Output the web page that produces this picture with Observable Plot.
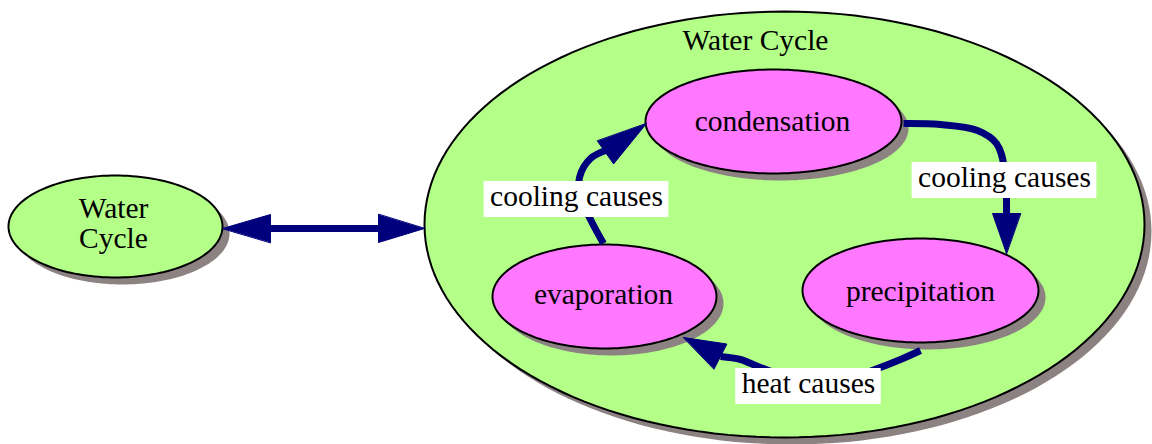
<!DOCTYPE html>
<html><head><meta charset="utf-8">
<script src="https://cdn.jsdelivr.net/npm/d3@7"></script>
<script src="https://cdn.jsdelivr.net/npm/@observablehq/plot@0.6"></script>
<style>body{margin:0;background:#fff}</style>
</head><body><div id="chart"></div>
<script>
// ---- nodes (diagram layout, in pixel units) ----
const nodeNames  = ["Water Cycle (node)", "Water Cycle (cluster)", "condensation", "precipitation", "evaporation"];
const nodeKinds  = ["cluster", "cluster", "concept", "concept", "concept"];
const nodeLevel  = [0, 0, 1, 1, 1];
const nodeCx     = [115, 784, 773, 920, 604];
const nodeCy     = [226, 224, 121, 290, 296];
const nodeRx     = [107, 360, 128, 118, 112];
const nodeRy     = [51, 213, 52, 52, 52];

// ---- text labels ----
const textLabels = ["Water", "Cycle", "Water Cycle", "condensation", "precipitation", "evaporation"];
const textX      = [113, 113, 755, 772, 920, 603];
const textY      = [208, 238, 40, 121, 291, 294];

// ---- edges ----
const edgeFrom   = ["Water Cycle", "condensation", "evaporation", "precipitation"];
const edgeTo     = ["Water Cycle", "precipitation", "condensation", "evaporation"];
const edgePaths  = [
  [[262,228],[386,228]],
  [[903,123],[940,124],[977,130],[996,143],[1004,168],[1006,216]],
  [[603,243],[591,221],[580,197],[579,177],[590,158],[608,149]],
  [[920,350],[900,359],[877,368],[840,380],[800,380],[760,367],[740,359],[720,356]]
];
const headTips   = [[222,228],[424,228],[1006,253],[646,123],[683,337]];
const headBases  = [[270,228],[378,228],[1006,213],[605,152],[720,356]];

// ---- edge labels ----
const edgeLabels = ["cooling causes", "cooling causes", "heat causes"];
const edgeLabelX = [576, 1004, 808];
const edgeLabelY = [199, 180, 386];

// ---- styles ----
const FONT = "Liberation Serif, Times New Roman, serif";
const FS = 29.5;
const GREEN = "#b3ff88", PINK = "#ff78ff", SHADOW = "#8c8282", NAVY = "#00007d";
const SH = 7;

// ellipse outlines
const ellipsePts = [];
nodeNames.forEach((n, i) => {
  const N = 160;
  for (let k = 0; k < N; k++) {
    const a = (k / N) * 2 * Math.PI;
    ellipsePts.push({node: n, kind: nodeKinds[i], level: nodeLevel[i],
      x: nodeCx[i] + nodeRx[i] * Math.cos(a), y: nodeCy[i] + nodeRy[i] * Math.sin(a)});
  }
});

const edgePts = [];
edgePaths.forEach((p, i) => p.forEach(([x, y]) => edgePts.push({edge: i, x, y})));

const headPts = [];
headTips.forEach((t, i) => {
  const b = headBases[i];
  const dx = t[0] - b[0], dy = t[1] - b[1], L = Math.hypot(dx, dy);
  const nx = -dy / L, ny = dx / L, hw = 14;
  headPts.push({head: i, x: t[0], y: t[1]});
  headPts.push({head: i, x: b[0] + nx * hw, y: b[1] + ny * hw});
  headPts.push({head: i, x: b[0] - nx * hw, y: b[1] - ny * hw});
});

const ctx = document.createElement("canvas").getContext("2d");
ctx.font = `${FS}px Liberation Serif`;
const boxes = edgeLabels.map((t, i) => {
  const w = ctx.measureText(t).width + 12;
  const h = 36;
  return {label: t, x1: edgeLabelX[i] - w / 2, x2: edgeLabelX[i] + w / 2, y1: edgeLabelY[i] - h / 2, y2: edgeLabelY[i] + h / 2};
});

const texts = textLabels.map((t, i) => ({t, x: textX[i], y: textY[i]}));
const etexts = edgeLabels.map((t, i) => ({t, x: edgeLabelX[i], y: edgeLabelY[i]}));

const fillOf = k => k === "cluster" ? GREEN : PINK;
const levelMarks = lvl => {
  const d = ellipsePts.filter(p => p.level === lvl);
  return [
    Plot.line(d, {x: "x", y: "y", z: "node", curve: "linear-closed", fill: SHADOW, stroke: "none", dx: SH, dy: SH}),
    ...["cluster", "concept"].map(k => Plot.line(d.filter(p => p.kind === k), {x: "x", y: "y", z: "node", curve: "linear-closed", fill: fillOf(k), stroke: "black", strokeWidth: 2}))
  ];
};

const chart = Plot.plot({
  width: 1152, height: 444, margin: 0,
  x: {domain: [0, 1152], range: [0, 1152], axis: null},
  y: {domain: [0, 444], range: [0, 444], axis: null},
  style: {fontFamily: FONT, background: "white"},
  marks: [
    ...levelMarks(0),
    ...levelMarks(1),
    Plot.line(edgePts, {x: "x", y: "y", z: "edge", curve: "catmull-rom", stroke: NAVY, strokeWidth: 7, strokeLinecap: "butt", strokeLinejoin: "round"}),
    Plot.line(headPts, {x: "x", y: "y", z: "head", curve: "linear-closed", fill: NAVY, stroke: NAVY, strokeWidth: 1}),
    Plot.rect(boxes, {x1: "x1", x2: "x2", y1: "y1", y2: "y2", fill: "white"}),
    Plot.text(texts, {x: "x", y: "y", text: "t", fontSize: FS, fill: "black", textAnchor: "middle"}),
    Plot.text(etexts, {x: "x", y: "y", text: "t", fontSize: FS, fill: "black", textAnchor: "middle", dy: -3})
  ]
});
document.getElementById("chart").appendChild(chart);
</script>
</body></html>
